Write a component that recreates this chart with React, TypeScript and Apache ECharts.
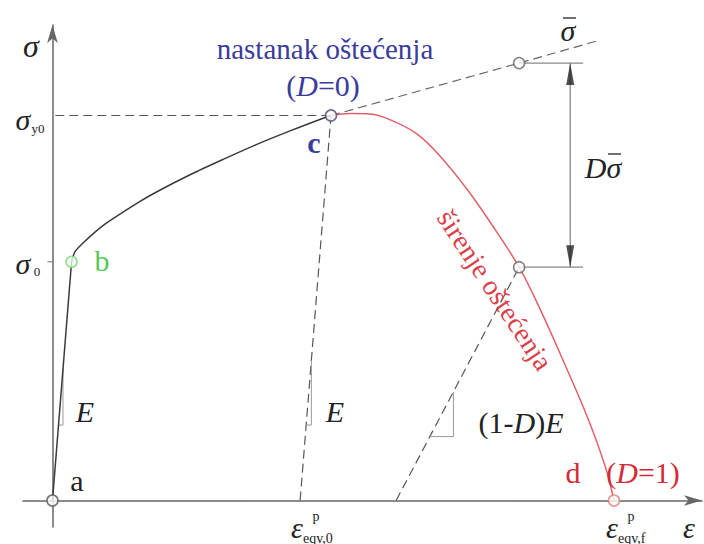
import React, { useEffect, useRef } from "react";
import * as echarts from "echarts";

// ---- data (normalised strain / stress; sigma_y0 = 1, eps_f = 1) ----
const elasticStrain = [0, 0.034];
const elasticStress = [0, 0.62];

const hardeningStrain = [0.034, 0.040, 0.0525, 0.0757, 0.0965, 0.156, 0.186, 0.245, 0.304, 0.364, 0.423, 0.482, 0.496];
const hardeningStress = [0.62, 0.646, 0.666, 0.697, 0.721, 0.777, 0.802, 0.846, 0.886, 0.925, 0.960, 0.993, 1.0];

const softeningStrain = [0.496, 0.530, 0.566, 0.606, 0.649, 0.690, 0.738, 0.784, 0.831, 0.870, 0.909, 0.952, 0.984, 1.0];
const softeningStress = [1.0, 1.005, 1.004, 0.986, 0.952, 0.895, 0.809, 0.713, 0.606, 0.492, 0.365, 0.219, 0.090, 0];

const pointA = [0, 0];
const pointB = [0.034, 0.62];
const pointC = [0.496, 1.0];
const pointD = [1.0, 0];
const damagePoint = [0.831, 0.606];
const effectivePoint = [0.831, 1.136];

const sigmaY0Line = [[0.005, 1.0], [0.496, 1.0]];
const elasticUnloadLine = [[0.441, 0], [0.496, 1.0]];
const effectiveLine = [[0.496, 1.0], [0.831, 1.136], [0.968, 1.193]];
const damagedUnloadLine = [[0.612, 0], [0.831, 0.606]];

const triangleE1 = [[0.0107, 0.196], [0.0187, 0.196], [0.0187, 0.343]];
const triangleE2 = [[0.4516, 0.196], [0.461, 0.196], [0.461, 0.364]];
const triangleDE = [[0.672, 0.166], [0.714, 0.166], [0.714, 0.282]];

const arrowX = 0.922;
const topTick = [[0.831, 1.136], [0.945, 1.136]];
const bottomTick = [[0.831, 0.606], [0.945, 0.606]];
const sigma0Tick = [[-0.009, 0.62], [0, 0.62]];

const xRange = [-0.0525, 1.1567];
const yRange = [-0.0688, 1.235];

const zip = (xs: number[], ys: number[]) => xs.map((x, i) => [x, ys[i]]);

const SERIF = '"Liberation Serif", "Times New Roman", serif';

export default function App() {
  const ref = useRef<HTMLDivElement>(null);

  useEffect(() => {
    if (!ref.current) return;
    const chart = echarts.init(ref.current, null, { renderer: "svg" });

    const line = (data: any, color: string, width: number, type: any = "solid", smooth: any = false, z = 2) => ({
      type: "line",
      data,
      smooth,
      symbol: "none",
      showSymbol: false,
      silent: true,
      z,
      lineStyle: { color, width, type },
    });

    const dot = (p: number[], border: string, fill = "#fff") => ({
      type: "scatter",
      data: [p],
      symbol: "circle",
      symbolSize: 11,
      z: 10,
      silent: true,
      itemStyle: { color: fill, borderColor: border, borderWidth: 1.6 },
    });

    const txt = (text: string, x: number, y: number, size: number, fill: string, opts: any = {}) => ({
      type: "text",
      x,
      y,
      rotation: opts.rotation || 0,
      z: 100,
      style: {
        text,
        font: `${opts.italic ? "italic " : ""}${opts.bold ? "bold " : ""}${size}px ${SERIF}`,
        fill,
        align: opts.align || "center",
        textAlign: opts.align || "center",
        verticalAlign: "middle",
        textVerticalAlign: "middle",
        rich: opts.rich,
      },
    });

    const bar = (x1: number, x2: number, y: number) => ({
      type: "line",
      z: 100,
      shape: { x1, y1: y, x2, y2: y },
      style: { stroke: "#222", lineWidth: 1.3 },
    });

    const richItalic = (size: number, color: string) => ({
      i: { fontStyle: "italic", fontSize: size, fontFamily: SERIF, color },
      n: { fontSize: size, fontFamily: SERIF, color },
    });

    const blue = "#3b3b9c";
    const red = "#d42a36";

    const option: any = {
      animation: false,
      backgroundColor: "#fff",
      grid: { left: 23, right: 2, top: 25, bottom: 17, containLabel: false },
      xAxis: {
        type: "value",
        min: xRange[0],
        max: xRange[1],
        axisLine: { onZero: true, symbol: ["none", "arrow"], symbolSize: [8, 18], lineStyle: { color: "#666", width: 1.5 } },
        axisTick: { show: false },
        axisLabel: { show: false },
        splitLine: { show: false },
      },
      yAxis: {
        type: "value",
        min: yRange[0],
        max: yRange[1],
        axisLine: { onZero: true, symbol: ["none", "arrow"], symbolSize: [8, 18], lineStyle: { color: "#666", width: 1.5 } },
        axisTick: { show: false },
        axisLabel: { show: false },
        splitLine: { show: false },
      },
      series: [
        line(sigmaY0Line, "#555", 1.2, [9, 5]),
        line(elasticUnloadLine, "#555", 1.2, [9, 5]),
        line(effectiveLine, "#666", 1.2, [9, 5]),
        line(damagedUnloadLine, "#555", 1.2, [9, 5]),
        line(triangleE1, "#999", 1),
        line(triangleE2, "#999", 1),
        line(triangleDE, "#999", 1),
        line(topTick, "#888", 1.3),
        line(bottomTick, "#888", 1.3),
        line(sigma0Tick, "#888", 1.2),
        line([[arrowX, 1.136], [arrowX, 0.606]], "#888", 1.3),
        line(zip(elasticStrain, elasticStress), "#3a3a3a", 1.5),
        line(zip(hardeningStrain, hardeningStress), "#3a3a3a", 1.5, "solid", 0.3),
        line(zip(softeningStrain, softeningStress), "#e06068", 1.5, "solid", 0.35, 3),
        {
          type: "scatter",
          data: [[arrowX, 1.136]],
          symbol: "triangle",
          symbolSize: [8, 22],
          symbolOffset: [0, 11],
          itemStyle: { color: "#222" },
          silent: true,
          z: 9,
        },
        {
          type: "scatter",
          data: [[arrowX, 0.606]],
          symbol: "triangle",
          symbolSize: [8, 22],
          symbolRotate: 180,
          symbolOffset: [0, -11],
          itemStyle: { color: "#222" },
          silent: true,
          z: 9,
        },
        dot(pointA, "#555"),
        dot(pointB, "#7fd67f", "#effcef"),
        dot(pointC, "#4a4a70"),
        dot(pointD, "#e77b7b"),
        dot(damagePoint, "#666"),
        dot(effectivePoint, "#666"),
      ],
      graphic: [
        txt("σ", 31, 46, 32, "#222", { italic: true }),
        txt("σ", 23, 119, 30, "#222", { italic: true }),
        txt("y0", 38, 128, 13, "#222"),
        txt("σ", 23, 263, 30, "#222", { italic: true }),
        txt("0", 37, 271, 13, "#222"),
        txt("b", 102, 260, 30, "#55c855"),
        txt("a", 77, 480, 30, "#222"),
        txt("E", 85, 411, 30, "#222", { italic: true }),
        txt("E", 335, 411, 30, "#222", { italic: true }),
        txt("c", 314, 142, 30, blue, { bold: true }),
        txt("nastanak oštećenja", 325, 49, 29, blue),
        txt("{n|(}{i|D}{n|=0)}", 323, 85, 30, blue, { rich: richItalic(30, blue) }),
        txt("σ", 568, 30, 30, "#222", { italic: true }),
        bar(563, 576, 18),
        txt("Dσ", 603, 167, 30, "#222", { italic: true }),
        bar(608, 621, 154),
        txt("širenje oštećenja", 495, 290, 28, "#d9404a", { rotation: -0.987 }),
        txt("{n|(1-}{i|D}{n|)}{i|E}", 521, 422, 30, "#222", { rich: richItalic(30, "#222") }),
        txt("d", 573, 472, 30, red),
        txt("{n|(}{i|D}{n|=1)}", 643, 472, 30, red, { rich: richItalic(30, red) }),
        txt("ε", 297, 527, 30, "#222", { italic: true }),
        txt("p", 316, 516, 14, "#222"),
        txt("eqv,0", 303, 538, 14, "#222", { align: "left" }),
        txt("ε", 612, 527, 30, "#222", { italic: true }),
        txt("p", 631, 516, 14, "#222"),
        txt("eqv,f", 618, 538, 14, "#222", { align: "left" }),
        txt("ε", 689, 527, 30, "#222", { italic: true }),
      ],
    };

    chart.setOption(option);
    return () => chart.dispose();
  }, []);

  return (
    <div
      ref={ref}
      style={{ position: "absolute", left: 0, top: 0, width: 704, height: 544, background: "#fff" }}
    />
  );
}
